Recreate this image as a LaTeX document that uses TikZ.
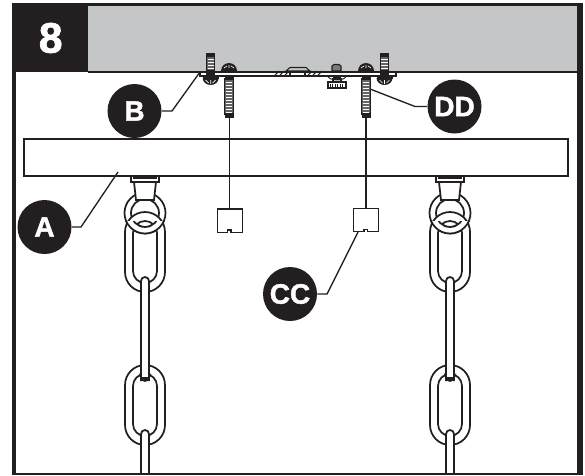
\documentclass[tikz,border=0pt]{standalone}
\usepackage{fontspec}
\setmainfont[BoldFeatures={FakeBold=1.6}]{Liberation Sans}
\definecolor{ink}{HTML}{231F20}
\definecolor{panel}{HTML}{C5C6C8}
\tikzset{
 ln/.style={draw=ink,line width=1.3pt},
 thin ln/.style={draw=ink,line width=1pt},
 badge/.style={circle,fill=ink,text=white,minimum size=40.5pt,inner sep=0pt,font=\bfseries\fontsize{21}{21}\selectfont},
 leader/.style={draw=ink,line width=1pt},
 tagbox/.style={draw=ink,line width=1pt,fill=white,minimum width=18.5pt,minimum height=17.5pt,inner sep=0pt}
}
\newcommand{\chainlink}[3]{% cx, top, bottom
 \path[ln,fill=white,even odd rule,rounded corners=15pt]
  (#1-20,#2) rectangle (#1+20,#3)
  [rounded corners=9pt] (#1-12,#2+9) rectangle (#1+12,#3-9);}
\newcommand{\edgelink}[3]{% cx, top, bottom
 \path[ln,fill=white] (#1-4,#3) -- (#1-4,#2+4) arc[start angle=180,end angle=0,x radius=4,y radius=-4] -- (#1+4,#3);}
\newcommand{\edgeend}[2]{% cx, y: rounded lower end of an edge-on link
 \fill[white] (#1-4,#2-16) rectangle (#1+4,#2-2);
 \draw[ln] (#1-4,#2-16) -- (#1-4,#2-4) arc[start angle=180,end angle=360,x radius=4,y radius=-4] -- (#1+4,#2-16);
 \fill[ink] (#1-6,#2-5) -- (#1,#2) -- (#1+6,#2-5) -- (#1+6,#2-8) -- (#1+4,#2-4) -- (#1-4,#2-4) -- (#1-6,#2-8) -- cycle;}
\newcommand{\eyelet}[1]{% cx
 \path[ln,fill=white] (#1,213) circle[radius=20.5];
 \path[ln,fill=white] (#1,213) circle[radius=14];
 \chainlink{#1}{212}{292}
 \begin{scope}
  \clip (#1-30,221) rectangle (#1+30,240);
  \path[ln,fill=white,even odd rule] (#1,213) circle[radius=20.5] (#1,213) circle[radius=14];
 \end{scope}
 \path[ln,fill=white] (#1-11,182) -- (#1-9,200) -- (#1+9,200) -- (#1+11,182) -- cycle;
 \path[thin ln,fill=white] (#1-14,176) rectangle (#1+14,182);
 \fill[ink] (#1-12,176) rectangle (#1+12,179);
 \chainlink{#1}{365}{445}
 \edgelink{#1}{277}{381}
 \edgeend{#1}{381}
 \edgelink{#1}{430}{473}
}
\newcommand{\threads}[4]{% cx, top, bottom, half width
 \path[draw=ink,line width=.8pt,fill=ink!70] (#1-#4,#2) rectangle (#1+#4,#3);
 \pgfmathtruncatemacro{\nn}{(#3-#2)/3}
 \foreach \k in {0,...,\nn}{\draw[white,line width=.5pt] (#1-#4+1,#2+3*\k) -- (#1+#4-1,#2+3*\k);}
}
\newcommand{\longscrew}[1]{% cx
 \threads{#1}{79}{114}{4.2}
 \fill[ink] (#1-4.5,75.5) rectangle (#1+4.5,80);
 \fill[ink] (#1-4.5,114) rectangle (#1+4.5,117.5);
 \path[fill=ink] (#1-8,71) arc[start angle=180,end angle=0,x radius=8,y radius=-8] -- cycle;
 \draw[white,line width=.5pt] (#1,65) -- (#1,68) (#1-5,68) -- (#1-2,66) (#1+5,68) -- (#1+2,66);
}
\newcommand{\sidescrew}[1]{% cx
 \threads{#1}{56}{71}{4.2}
 \fill[ink] (#1-4.5,53) rectangle (#1+4.5,57);
 \fill[ink] (#1-4.5,71) rectangle (#1+4.5,77);
 \fill[ink] (#1-8,78) arc[start angle=180,end angle=360,x radius=8,y radius=-7] -- cycle;
 \fill[ink] (#1-8,76.5) rectangle (#1+8,79);
 \draw[white,line width=.5pt] (#1,80) -- (#1,84) (#1-5,80) -- (#1-2,83) (#1+5,80) -- (#1+2,83);
}
\begin{document}
\begin{tikzpicture}[x=0.75pt,y=-0.75pt]
\useasboundingbox (0,0) rectangle (585,475);
\fill[white] (0,0) rectangle (585,475);
\fill[panel] (88,6) rectangle (577,71);
% bar
\path[draw=ink,line width=1.3pt,fill=white] (24,139) rectangle (568,176);
% chains
\eyelet{145}
\eyelet{450}
% hangers and tags
\coordinate (hl) at (229.3,117);\coordinate (hr) at (366,117);
\node[tagbox] (tl) at (230,220.5) {};
\node[tagbox] (tr) at (366,220) {};
\draw[thin ln] (hl) -- (tl.north -| hl);
\draw[thin ln] (hr) -- (tr.north);
\draw[ink,line width=.8pt,fill=white] (227.5,232.5) -- (227.5,230) -- (231,230) -- (231,232.5);
\draw[ink,line width=.8pt,fill=white] (364,232) -- (364,229.5) -- (367.5,229.5) -- (367.5,232);
% plate
\path[draw=ink,line width=1pt,fill=white] (200,71.5) rectangle (396,76);
\draw[ink,line width=.8pt] (275,75) -- (279,71) (280,75) -- (284,71) (285,75) -- (289,71);
\path[draw=ink,line width=.8pt,fill=panel] (286,71) -- (290,67.5) -- (306,67.5) -- (310,71) -- cycle;
\draw[ink,line width=.8pt] (290,71) -- (290,76) -- (297,76);
\draw[ink,line width=.8pt] (305,71) -- (305,76);
\draw[ink,line width=.8pt] (308,75) -- (312,71) (313,75) -- (317,71) (318,75) -- (322,71);
% screws
\sidescrew{210.7}
\sidescrew{384.5}
\longscrew{229}
\longscrew{366}
% middle screw
\path[draw=ink,line width=.8pt,fill=ink!60] (332,71) -- (332,66) -- (334,64.5) -- (339,64.5) -- (341,66) -- (341,71) -- cycle;
\fill[ink] (333,76) rectangle (341,80);
\path[draw=ink,line width=.8pt,fill=white] (333,79) rectangle (341,84);
\draw[ink,line width=.7pt] (328,76) arc[start angle=180,end angle=360,x radius=9,y radius=-4];
\path[draw=ink,line width=.8pt,fill=white] (328,82) rectangle (346,88);
\foreach \i in {330,332.5,...,345}{\draw[ink,line width=.6pt] (\i,84) -- (\i,88);}
\draw[ink,line width=1pt] (328,88) -- (346,88);
% header block and frame
\fill[ink] (12,3) rectangle (88,72);
\fill[ink] (12,3) rectangle (583,6);
\fill[ink] (12,3) rectangle (15.7,475);
\fill[ink] (577,3) rectangle (583,475);
\fill[ink] (12,473) rectangle (583,475);
\fill[ink] (88,71) rectangle (577,72.5);
\node[text=white,font=\bfseries\fontsize{32}{32}\selectfont] (title) at (50.7,38) {8};
% callouts
\node[badge] (B) at (134.5,111) {B};
\node[badge] (DD) at (454.5,106.5) {DD};
\node[badge] (A) at (44.5,227) {A};
\node[badge] (CC) at (290,294) {CC};
\coordinate (bp) at (200,72);\coordinate (ddp) at (370,89);\coordinate (ap) at (118,172);\coordinate (ccp) at (358,232);
\draw[leader] (B.east) -- (172,111) -- (bp);
\draw[leader] (DD.west) -- (415,106.5) -- (ddp);
\draw[leader] (A.east) -- (81,227) -- (ap);
\draw[leader] (CC.east) -- (327,294) -- (ccp);
\end{tikzpicture}
\end{document}
